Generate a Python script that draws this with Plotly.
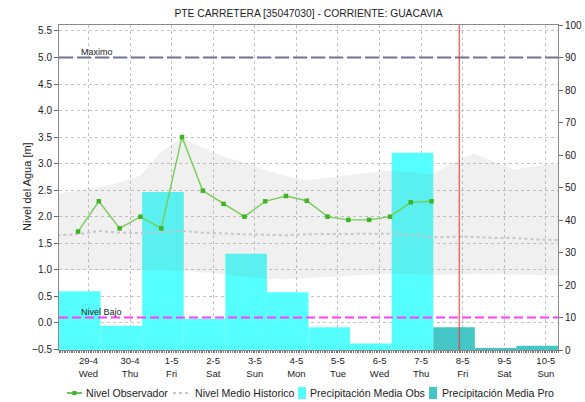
import plotly.graph_objects as go

# ---------------- data ----------------
days = ["29-4", "30-4", "1-5", "2-5", "3-5", "4-5", "5-5", "6-5", "7-5", "8-5", "9-5", "10-5"]
weekdays = ["Wed", "Thu", "Fri", "Sat", "Sun", "Mon", "Tue", "Wed", "Thu", "Fri", "Sat", "Sun"]

# observed water level [m], readings at 06:00 and 18:00, 29-4 .. 7-5
nivel_obs = [1.72, 2.29, 1.78, 2.00, 1.78, 3.50, 2.49, 2.24, 2.00,
             2.29, 2.39, 2.30, 2.00, 1.94, 1.94, 2.00, 2.27, 2.29]

# historic statistics [m] at 06:00 / 18:00, from 28-4 18:00 to 11-5 06:00
hist_medio = [1.65, 1.67, 1.73, 1.70, 1.69, 1.71, 1.73, 1.70, 1.68, 1.67, 1.66, 1.65, 1.67,
              1.67, 1.67, 1.68, 1.68, 1.66, 1.61, 1.62, 1.62, 1.60, 1.60, 1.57, 1.56, 1.55]
hist_max = [2.43, 2.49, 2.55, 2.65, 2.77, 3.22, 3.49, 3.30, 3.13, 3.02, 2.88, 2.76, 2.68,
            2.74, 2.78, 2.82, 2.87, 2.84, 2.80, 3.00, 3.19, 3.04, 2.89, 2.95, 2.99, 2.99]
hist_min = [1.00, 1.00, 1.00, 1.00, 1.00, 0.99, 0.98, 0.95, 0.92, 0.87, 0.83, 0.82, 0.84,
            0.86, 0.89, 0.91, 0.93, 0.92, 0.90, 0.91, 0.92, 0.92, 0.91, 0.90, 0.89, 0.88]

# daily precipitation [mm]: observed 29-4 .. 7-5, forecast 8-5 .. 10-5
precip_obs = [18.1, 7.5, 48.6, 9.6, 29.6, 17.8, 7.0, 2.0, 60.7]
precip_pro = [7.0, 0.5, 1.3]

nivel_maximo = 5.0
nivel_bajo = 0.1
ahora = (9, 10)  # day index, hour

series_names = ["Nivel Observador", "Nivel Medio Historico",
                "Precipitación Media Obs", "Precipitación Media Pro"]
title = "PTE CARRETERA [35047030] - CORRIENTE: GUACAVIA"
y_title = "Nivel del Agua [m]"


# ---------------- time helpers ----------------
def t(day, hour):
    """Position on the time axis: day index, with the day label at noon."""
    return day + (hour - 12) / 24.0


obs_x = [t(d, h) for d in range(len(nivel_obs) // 2) for h in (6, 18)]
hist_x = [t(-1, 18)] + [t(d, h) for d in range(len(days)) for h in (6, 18)] + [t(len(days), 6)]
bar_obs_x = [t(d, 7) for d in range(len(precip_obs))]
bar_pro_x = [t(len(precip_obs) + d, 7) for d in range(len(precip_pro))]
x_range = [bar_obs_x[0] - 0.5, bar_pro_x[-1] + 0.5]

# ---------------- styles ----------------
FONT = "Liberation Sans, Arial, sans-serif"
C_OBS = "#55ffff"
C_PRO = "#44c6c6"
C_LINE = "#77cc55"
C_MARK = "#3fb423"
C_HIST = "#c6c6c6"
C_GRID = "#c4c4c4"
C_AXIS = "#8a8a8a"

fig = go.Figure()

# precipitation bars on the right-hand axis (drawn underneath)
fig.add_trace(go.Bar(x=bar_obs_x, y=precip_obs, width=1.0, marker=dict(color=C_OBS, line=dict(width=0)),
                     name=series_names[2], showlegend=False))
fig.add_trace(go.Bar(x=bar_pro_x, y=precip_pro, width=1.0, marker=dict(color=C_PRO, line=dict(width=0)),
                     name=series_names[3], showlegend=False))

# historic envelope
fig.add_trace(go.Scatter(x=hist_x, y=hist_min, yaxis="y2", mode="lines",
                         line=dict(width=0, color="rgba(0,0,0,0)"), showlegend=False, hoverinfo="skip"))
fig.add_trace(go.Scatter(x=hist_x, y=hist_max, yaxis="y2", mode="lines", fill="tonexty",
                         fillcolor="rgba(128,128,128,0.12)",
                         line=dict(width=0, color="rgba(0,0,0,0)"), showlegend=False, hoverinfo="skip"))
# historic mean
fig.add_trace(go.Scatter(x=hist_x, y=hist_medio, yaxis="y2", mode="lines",
                         line=dict(color=C_HIST, width=2, dash="dot"),
                         name=series_names[1], showlegend=False))
# observed level
fig.add_trace(go.Scatter(x=obs_x, y=nivel_obs, yaxis="y2", mode="lines+markers",
                         line=dict(color=C_LINE, width=1.4),
                         marker=dict(color=C_MARK, size=4.5, symbol="square"),
                         name=series_names[0], showlegend=False))

# level range on the left axis chosen so that 5.0 m <-> 90 and 0.1 m <-> 10 on the right axis
scale = (nivel_maximo - nivel_bajo) / 80.0
lvl_range = [nivel_bajo - 10 * scale, nivel_bajo + 90 * scale]

shapes = [
    dict(type="line", xref="paper", x0=0, x1=1, yref="y2", y0=nivel_maximo, y1=nivel_maximo,
         line=dict(color="#6b7599", width=2, dash="14px,4px")),
    dict(type="line", xref="paper", x0=0, x1=1, yref="y2", y0=nivel_bajo, y1=nivel_bajo,
         line=dict(color="#ff3cff", width=2, dash="9px,4px")),
    dict(type="line", xref="x", x0=t(*ahora), x1=t(*ahora), yref="paper", y0=0, y1=1,
         line=dict(color="#ff2b2b", width=1)),
]

# ---------------- plot area / paper helpers ----------------
L, W, B, H = 59, 499, 350, 325  # plot area in pixels


def px(xp):
    return (xp - L) / W


def py(yp):
    return (B - yp) / H


annotations = [
    dict(text="Maximo", xref="paper", x=px(79), yref="y2", y=nivel_maximo, xanchor="left",
         yanchor="bottom", yshift=-1, showarrow=False, font=dict(family=FONT, size=9, color="#222")),
    dict(text="Nivel Bajo", xref="paper", x=px(79), yref="y2", y=nivel_bajo, xanchor="left",
         yanchor="bottom", yshift=-1, showarrow=False, font=dict(family=FONT, size=9, color="#222")),
    dict(text=y_title, xref="paper", x=px(27), yref="paper", y=py(187), textangle=-90,
         xanchor="center", yanchor="middle", showarrow=False,
         font=dict(family=FONT, size=11, color="#222")),
]

# ---------------- legend (custom, compact symbols) ----------------
leg_y = 393
shapes += [
    dict(type="line", xref="paper", yref="paper", x0=px(67), x1=px(82), y0=py(leg_y), y1=py(leg_y),
         line=dict(color=C_MARK, width=1.5)),
    dict(type="rect", xref="paper", yref="paper", x0=px(72.5), x1=px(76.5), y0=py(leg_y - 2), y1=py(leg_y + 2),
         fillcolor=C_MARK, line=dict(width=0)),
    dict(type="line", xref="paper", yref="paper", x0=px(173), x1=px(188), y0=py(leg_y), y1=py(leg_y),
         line=dict(color=C_HIST, width=2, dash="dot")),
    dict(type="rect", xref="paper", yref="paper", x0=px(298), x1=px(306), y0=py(leg_y - 6), y1=py(leg_y + 6),
         fillcolor=C_OBS, line=dict(width=0)),
    dict(type="rect", xref="paper", yref="paper", x0=px(429), x1=px(437), y0=py(leg_y - 6), y1=py(leg_y + 6),
         fillcolor=C_PRO, line=dict(width=0)),
]
for name, xp in zip(series_names, [84, 193, 308, 440]):
    annotations.append(dict(text=name, xref="paper", yref="paper", x=px(xp), y=py(leg_y),
                            xanchor="left", yanchor="middle", showarrow=False,
                            font=dict(family=FONT, size=10.6, color="#222")))

fig.update_layout(
    width=585, height=402,
    margin=dict(l=L, r=585 - L - W, t=25, b=402 - B, autoexpand=False),
    paper_bgcolor="white", plot_bgcolor="white",
    font=dict(family=FONT, size=10, color="#333"),
    title=dict(text=title, x=0.5, xref="paper", y=1 - 13 / 402, yanchor="middle",
               font=dict(family=FONT, size=10.3, color="#222")),
    barmode="overlay",
    showlegend=False,
    shapes=shapes,
    annotations=annotations,
    xaxis=dict(
        range=x_range, tickmode="array", tickvals=list(range(len(days))),
        ticktext=[f"{d}<br>{w}" for d, w in zip(days, weekdays)],
        tickfont=dict(size=9.5, color="#222"), automargin=False,
        showgrid=True, gridcolor=C_GRID, griddash="dot", gridwidth=1,
        showline=True, linecolor=C_AXIS, mirror=True,
        ticks="outside", ticklen=2, tickcolor="#666",
        minor=dict(dtick=1 / 24, tick0=0, ticks="outside", ticklen=2, tickcolor="#777", showgrid=False),
        zeroline=False,
    ),
    yaxis=dict(
        side="right", range=[0, 100], dtick=10, tick0=0, automargin=False,
        showgrid=False, zeroline=False,
        showline=True, linecolor=C_AXIS, ticks="outside", ticklen=4, tickcolor="#666",
        tickfont=dict(size=10, color="#222"),
    ),
    yaxis2=dict(
        overlaying="y", side="left", range=lvl_range, dtick=0.5, tick0=0, tickformat=".1f",
        automargin=False,
        showgrid=True, gridcolor=C_GRID, griddash="dot", gridwidth=1, zeroline=False,
        showline=True, linecolor=C_AXIS, ticks="outside", ticklen=4, tickcolor="#666",
        tickfont=dict(size=10, color="#222"),
    ),
)

fig.write_html("out.html")
